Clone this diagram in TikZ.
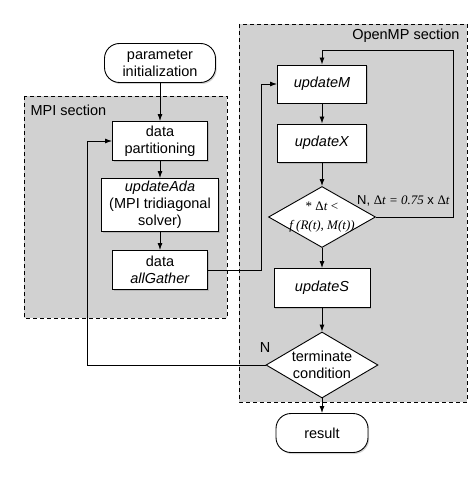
\documentclass[tikz,border=0pt]{standalone}
\usepackage{fontspec}
\setmainfont{Liberation Serif}
\setsansfont{Liberation Sans}
\usetikzlibrary{shapes.geometric,arrows.meta,shadows}

\definecolor{secgray}{gray}{0.82}

\tikzset{
  boite/.style={draw,fill=white,line width=0.9pt,align=center,inner sep=1pt,
    minimum height=39pt,drop shadow={shadow xshift=1.2pt,shadow yshift=-1.5pt,opacity=0.35}},
  arrondi/.style={boite,rounded corners=15pt},
  losange/.style={diamond,draw,fill=white,line width=0.9pt,align=center,
    inner xsep=-14pt,inner ysep=-8pt},
  section/.style={draw,fill=secgray,line width=0.8pt,dash pattern=on 4pt off 3pt},
  fleche/.style={-{Latex[length=7pt,width=5pt]},line width=0.9pt}
}

\begin{document}
\begin{tikzpicture}[x=1pt,y=-1pt,font=\sffamily\fontsize{14.5}{17}\selectfont]
  \useasboundingbox (0,0) rectangle (474,481);

  % Sections
  \draw[section] (24,96) rectangle (227,318);
  \draw[section] (239,24) rectangle (467,402);
  \node[anchor=west] (mpilab) at (27,110) {MPI section};
  \node[anchor=east] (omplab) at (463,36) {OpenMP section};

  % Partie MPI
  \node[arrondi,minimum width=111pt] (init) at (160,63) {parameter\\initialization};
  \node[boite,minimum width=95pt] (part) at (160,141) {data\\partitioning};
  \node[boite,minimum width=117pt,minimum height=53pt] (ada) at (160,205)
    {\textit{updateAda}\\(MPI tridiagonal\\solver)};
  \node[boite,minimum width=95pt] (gather) at (160,270) {data\\\textit{allGather}};

  % Partie OpenMP
  \node[boite,minimum width=89pt,minimum height=38pt] (updM) at (322,84) {\textit{updateM}};
  \node[boite,minimum width=89pt,minimum height=38pt] (updX) at (322,143) {\textit{updateX}};
  \node[losange,minimum width=107pt,minimum height=61pt,
    font=\rmfamily\fontsize{13}{19}\selectfont] (dt) at (322,217)
    {* Δ\textit{t} <\\\textit{f (R(t), M(t))}};
  \node[boite,minimum width=96pt] (updS) at (322,288) {\textit{updateS}};
  \node[losange,minimum width=112pt,minimum height=66pt] (term) at (322,365)
    {terminate\\condition};
  \node[arrondi,minimum width=92pt] (res) at (322,433) {result};

  % Etiquettes
  \node[anchor=west,inner sep=0pt,font=\sffamily\fontsize{13}{15}\selectfont] (nlab) at (357,201)
    {N, {\rmfamily Δ\textit{t = 0.75}} x {\rmfamily Δ\textit{t}}};
  \node (nterm) at (265,348) {N};

  % Fleches
  \coordinate (loopA) at (453,50);
  \coordinate (loopB) at (87,141);
  \draw[fleche] (init) -- (part);
  \draw[fleche] (part) -- (ada);
  \draw[fleche] (ada) -- (gather);
  \draw[fleche] (gather.east) -- ++(53,0) |- (updM.west);
  \draw[fleche] (updM) -- (updX);
  \draw[fleche] (updX) -- (dt);
  \draw[fleche] (dt.east) -| (loopA) -| (updM.north);
  \draw[fleche] (dt) -- (updS);
  \draw[fleche] (updS) -- (term);
  \draw[fleche] (term.west) -| (loopB) -- (part.west);
  \draw[fleche] (term) -- (res);
\end{tikzpicture}
\end{document}
